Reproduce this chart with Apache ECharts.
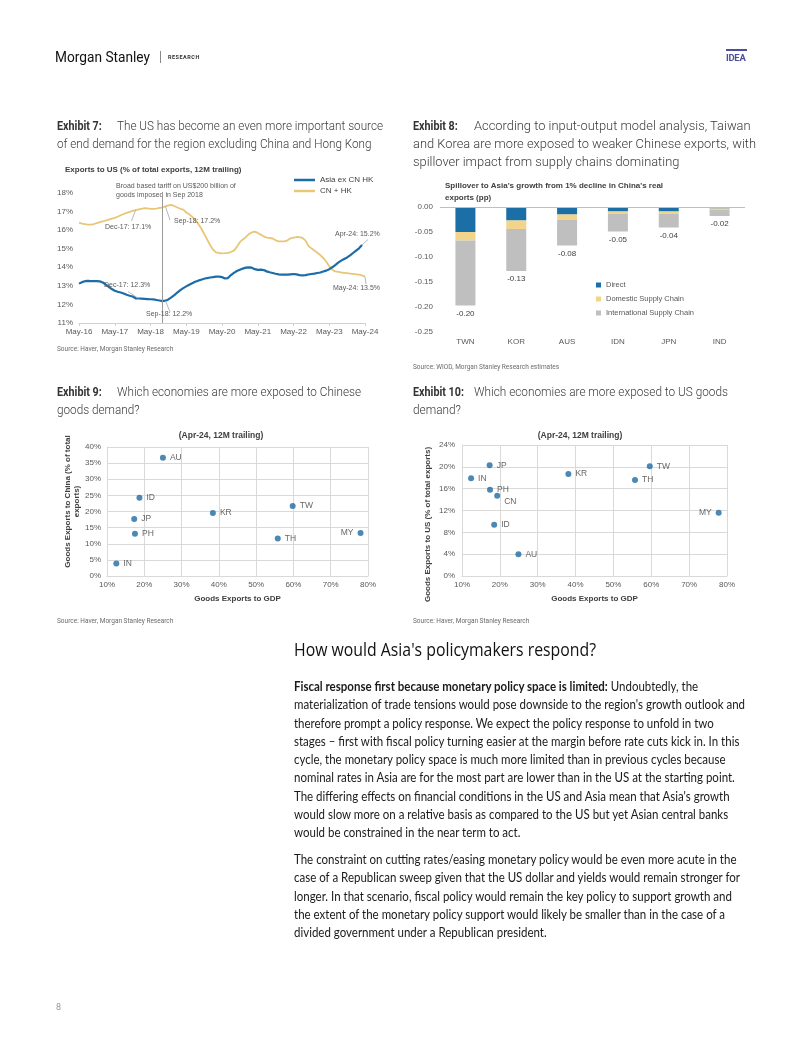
<!DOCTYPE html>
<html><head><meta charset="utf-8">
<script src="https://cdn.jsdelivr.net/npm/echarts@6/dist/echarts.min.js"></script>
<style>
html,body{margin:0;padding:0;background:#fff;}
#page{position:relative;width:802px;height:1037px;overflow:hidden;background:#fff;}
#chart{position:absolute;left:0;top:0;width:802px;height:1037px;}
.t{position:absolute;white-space:nowrap;color:#333;}
.ln{display:block;}
.sc{display:inline-block;transform-origin:0 50%;}
.lab{display:inline-block;font-weight:700;color:#333;}
.lab i{font-style:normal;display:inline-block;transform:scaleX(0.86);transform-origin:0 50%;}
.ex{font-family:Roboto,sans-serif;font-weight:300;font-size:12.5px;line-height:18px;color:#3a3a3a;}
.src{font-family:Roboto,sans-serif;font-size:6.5px;color:#6b6b6b;}
.body{font-family:Lato,sans-serif;font-size:12.4px;line-height:18.3px;color:#1a1a1a;}
</style></head>
<body>
<div id="page">
<div id="chart"></div>

<!-- header -->
<div class="t" data-w="95" data-ref="0" style="left:55px;top:48px;font-family:Roboto,sans-serif;font-size:15.5px;line-height:18px;color:#111;"><span class="sc">Morgan Stanley</span></div>
<div style="position:absolute;left:160px;top:51px;width:1px;height:12px;background:#888;"></div>
<div class="t" style="left:168px;top:53px;font-family:Roboto,sans-serif;font-size:5.5px;font-weight:700;letter-spacing:0.5px;line-height:8px;color:#333;">RESEARCH</div>
<div style="position:absolute;left:726px;top:49px;width:21px;height:2px;background:#4d4f9e;"></div>
<div class="t" style="left:726px;top:52px;font-family:Roboto,sans-serif;font-size:9.5px;font-weight:700;line-height:11px;color:#4d4f9e;letter-spacing:-0.3px;">IDEA</div>

<!-- exhibit titles -->
<div class="t ex" data-w="266" data-ref="0" style="left:57px;top:117px;">
 <div class="ln"><span class="lab" style="width:60px"><i>Exhibit 7:</i></span><span class="sc">The US has become an even more important source</span></div>
 <div class="ln"><span class="sc">of end demand for the region excluding China and Hong Kong</span></div>
</div>
<div class="t ex" data-w="343" data-ref="1" style="left:413px;top:117px;">
 <div class="ln"><span class="lab" style="width:61px"><i>Exhibit 8:</i></span><span class="sc">According to input-output model analysis, Taiwan</span></div>
 <div class="ln"><span class="sc">and Korea are more exposed to weaker Chinese exports, with</span></div>
 <div class="ln"><span class="sc">spillover impact from supply chains dominating</span></div>
</div>
<div class="t ex" data-w="244" data-ref="0" style="left:57px;top:383px;">
 <div class="ln"><span class="lab" style="width:60px"><i>Exhibit 9:</i></span><span class="sc">Which economies are more exposed to Chinese</span></div>
 <div class="ln"><span class="sc">goods demand?</span></div>
</div>
<div class="t ex" data-w="254" data-ref="0" style="left:413px;top:383px;">
 <div class="ln"><span class="lab" style="width:61px"><i>Exhibit 10:</i></span><span class="sc">Which economies are more exposed to US goods</span></div>
 <div class="ln"><span class="sc">demand?</span></div>
</div>

<!-- sources -->
<div class="t src" style="left:57px;top:345px;">Source: Haver, Morgan Stanley Research</div>
<div class="t src" style="left:413px;top:363px;">Source: WIOD, Morgan Stanley Research estimates</div>
<div class="t src" style="left:57px;top:617px;">Source: Haver, Morgan Stanley Research</div>
<div class="t src" style="left:413px;top:617px;">Source: Haver, Morgan Stanley Research</div>

<!-- heading -->
<div class="t" data-w="302" data-ref="0" style="left:294px;top:638px;font-family:'Open Sans',sans-serif;font-weight:500;font-size:17.5px;line-height:22px;color:#111;"><span class="sc">How would Asia's policymakers respond?</span></div>

<div class="t body" data-w="451" data-ref="1" style="left:294px;top:678px;">
 <div class="ln"><span class="sc"><b>Fiscal response first because monetary policy space is limited:</b> Undoubtedly, the</span></div>
 <div class="ln"><span class="sc">materialization of trade tensions would pose downside to the region's growth outlook and</span></div>
 <div class="ln"><span class="sc">therefore prompt a policy response. We expect the policy response to unfold in two</span></div>
 <div class="ln"><span class="sc">stages – first with fiscal policy turning easier at the margin before rate cuts kick in. In this</span></div>
 <div class="ln"><span class="sc">cycle, the monetary policy space is much more limited than in previous cycles because</span></div>
 <div class="ln"><span class="sc">nominal rates in Asia are for the most part are lower than in the US at the starting point.</span></div>
 <div class="ln"><span class="sc">The differing effects on financial conditions in the US and Asia mean that Asia's growth</span></div>
 <div class="ln"><span class="sc">would slow more on a relative basis as compared to the US but yet Asian central banks</span></div>
 <div class="ln"><span class="sc">would be constrained in the near term to act.</span></div>
</div>
<div class="t body" data-w="446" data-ref="1" style="left:294px;top:851px;">
 <div class="ln"><span class="sc">The constraint on cutting rates/easing monetary policy would be even more acute in the</span></div>
 <div class="ln"><span class="sc">case of a Republican sweep given that the US dollar and yields would remain stronger for</span></div>
 <div class="ln"><span class="sc">longer. In that scenario, fiscal policy would remain the key policy to support growth and</span></div>
 <div class="ln"><span class="sc">the extent of the monetary policy support would likely be smaller than in the case of a</span></div>
 <div class="ln"><span class="sc">divided government under a Republican president.</span></div>
</div>

<div class="t" style="left:56px;top:1002px;font-family:Roboto,sans-serif;font-size:9px;color:#999;">8</div>
</div>

<script>
// ---------- Exhibit 7 data ----------
const MONTH_ABBR = ['Jan','Feb','Mar','Apr','May','Jun','Jul','Aug','Sep','Oct','Nov','Dec'];
const months = [];
for (let i = 0; i < 97; i++) { const k = 4 + i; months.push(MONTH_ABBR[k % 12] + '-' + (16 + Math.floor(k / 12))); }

const asiaExCnHk = [13.12,13.20,13.25,13.27,13.26,13.25,13.25,13.24,13.18,13.07,12.95,12.83,
 12.74,12.68,12.64,12.59,12.52,12.47,12.43,12.33,12.32,12.31,12.30,12.29,
 12.28,12.27,12.24,12.21,12.18,12.20,12.27,12.38,12.50,12.64,12.77,12.88,
 12.97,13.06,13.14,13.22,13.28,13.33,13.38,13.42,13.45,13.47,13.50,13.50,
 13.47,13.40,13.42,13.58,13.70,13.80,13.87,13.93,13.98,14.00,13.98,13.90,
 13.86,13.87,13.85,13.78,13.73,13.69,13.65,13.62,13.60,13.60,13.60,13.62,
 13.64,13.62,13.58,13.56,13.58,13.61,13.64,13.66,13.69,13.72,13.77,13.82,
 13.90,14.00,14.12,14.25,14.36,14.45,14.53,14.64,14.77,14.90,15.02,15.20,null];
const cnHk = [16.40,16.35,16.32,16.30,16.30,16.33,16.38,16.43,16.47,16.52,16.57,16.62,
 16.66,16.72,16.80,16.87,16.93,16.98,17.04,17.08,17.12,17.15,17.18,17.17,
 17.15,17.14,17.16,17.20,17.22,17.28,17.33,17.36,17.30,17.22,17.15,17.10,
 16.95,16.85,16.72,16.55,16.35,16.10,15.80,15.50,15.20,14.95,14.80,14.77,
 14.75,14.76,14.78,14.82,14.90,15.10,15.35,15.50,15.62,15.78,15.88,15.92,
 15.85,15.76,15.66,15.60,15.58,15.55,15.45,15.40,15.40,15.40,15.45,15.56,
 15.60,15.63,15.62,15.58,15.45,15.15,15.02,14.90,14.78,14.66,14.50,14.30,
 14.05,13.87,13.78,13.75,13.72,13.70,13.68,13.66,13.64,13.62,13.60,13.56,13.50];

// ---------- Exhibit 8 data ----------
const spillCountries = ['TWN','KOR','AUS','IDN','JPN','IND'];
const direct = [-0.050,-0.027,-0.015,-0.009,-0.009,-0.003];
const domesticSC = [-0.017,-0.017,-0.010,-0.005,-0.005,-0.002];
const internationalSC = [-0.130,-0.084,-0.052,-0.035,-0.027,-0.013];
const spillTotals = [-0.20,-0.13,-0.08,-0.05,-0.04,-0.02];

// ---------- Exhibit 9 data ----------
const cnNames = ['AU','ID','JP','PH','IN','KR','TW','TH','MY'];
const cnGdp = [25.0,18.7,17.3,17.5,12.5,38.4,59.8,55.8,78.0];
const cnShare = [36.7,24.3,17.7,13.1,3.9,19.5,21.7,11.6,13.3];

// ---------- Exhibit 10 data ----------
const usNames = ['JP','IN','PH','CN','ID','AU','KR','TW','TH','MY'];
const usGdp = [17.3,12.4,17.4,19.3,18.5,24.9,38.1,59.6,55.7,77.8];
const usShare = [20.3,17.9,15.8,14.7,9.4,4.0,18.7,20.1,17.6,11.6];

// ---------- fit text widths ----------
document.querySelectorAll('[data-w]').forEach(function (blk) {
  const spans = blk.querySelectorAll('.sc');
  const ref = spans[+blk.dataset.ref];
  const w = ref.getBoundingClientRect().width;
  const s = (+blk.dataset.w) / w;
  spans.forEach(function (sp) { sp.style.transform = 'scaleX(' + s + ')'; });
});

// ---------- chart ----------
const FONT = 'Liberation Sans, Arial, sans-serif';
const BLUE = '#1b6ca8', YEL = '#e8c678', DOT = '#1f6aa0';
const lab = '#595959';
const LEADER = { color: '#a6a6a6', width: 0.8, type: 'solid' };

function annot(name, m, v, dx, dy) {
  return { name: name, coord: [months[m], v], label: { offset: [dx, dy] } };
}
function leader(m, v, px, py) {
  return [{ coord: [months[m], v], lineStyle: LEADER }, { x: px, y: py }];
}
function fmtPct(v) { return v.toFixed(1) + '%'; }

const chart = echarts.init(document.getElementById('chart'), null, { renderer: 'canvas' });

function scatterData(names, xs, ys, leftSet, special) {
  return names.map(function (n, i) {
    const d = { name: n, value: [xs[i], ys[i]] };
    if (leftSet.indexOf(n) >= 0) d.label = { position: 'left' };
    if (special && special[n]) d.label = special[n];
    return d;
  });
}

const valAxisCommon = {
  axisLabel: { fontSize: 8, color: lab, fontFamily: FONT, formatter: '{value}%' },
  axisLine: { show: true, lineStyle: { color: '#d9d9d9' } },
  axisTick: { show: false },
  splitLine: { show: true, lineStyle: { color: '#d9d9d9', width: 1 } },
  nameTextStyle: { fontSize: 8, fontWeight: 'bold', color: '#404040', fontFamily: FONT }
};

const option = {
  animation: false,
  textStyle: { fontFamily: FONT },
  grid: [
    { left: 79, top: 193, width: 286, height: 130 },
    { left: 440, top: 207, width: 305, height: 125 },
    { left: 107, top: 447, width: 261, height: 129 },
    { left: 462, top: 445, width: 265, height: 131 }
  ],
  legend: [
    { data: ['Asia ex CN HK', 'CN + HK'], left: 289, top: 171, orient: 'vertical', icon: 'rect',
      itemWidth: 21, itemHeight: 2.5, itemGap: 3, textStyle: { fontSize: 8, color: '#404040', fontFamily: FONT } },
    { data: ['Direct', 'Domestic Supply Chain', 'International Supply Chain'], left: 591, top: 276,
      orient: 'vertical', icon: 'rect', itemWidth: 5, itemHeight: 5, itemGap: 6,
      textStyle: { fontSize: 7.5, color: '#595959', fontFamily: FONT } }
  ],
  xAxis: [
    { type: 'category', gridIndex: 0, data: months, boundaryGap: false,
      axisLine: { lineStyle: { color: '#d0d0d0' } },
      axisTick: { show: true, interval: 11, length: 3, lineStyle: { color: '#d0d0d0' } },
      axisLabel: { interval: 11, fontSize: 8, color: lab, margin: 5 } },
    { type: 'category', gridIndex: 1, data: spillCountries,
      axisLine: { show: false }, axisTick: { show: false },
      axisLabel: { fontSize: 8, color: lab, margin: 6 } },
    Object.assign({}, valAxisCommon, { type: 'value', gridIndex: 2, min: 10, max: 80, interval: 10,
      name: 'Goods Exports to GDP', nameLocation: 'middle', nameGap: 19,
      axisLabel: Object.assign({}, valAxisCommon.axisLabel, { margin: 5 }) }),
    Object.assign({}, valAxisCommon, { type: 'value', gridIndex: 3, min: 10, max: 80, interval: 10,
      name: 'Goods Exports to GDP', nameLocation: 'middle', nameGap: 19,
      axisLabel: Object.assign({}, valAxisCommon.axisLabel, { margin: 5 }) })
  ],
  yAxis: [
    { type: 'value', gridIndex: 0, min: 11, max: 18, interval: 1,
      axisLine: { show: false }, axisTick: { show: false }, splitLine: { show: false },
      axisLabel: { fontSize: 8, color: lab, margin: 6, formatter: '{value}%' } },
    { type: 'value', gridIndex: 1, min: -0.25, max: 0, interval: 0.05,
      axisLine: { show: false }, axisTick: { show: false }, splitLine: { show: false },
      axisLabel: { fontSize: 8, color: lab, margin: 7, formatter: function (v) { return v.toFixed(2); } } },
    Object.assign({}, valAxisCommon, { type: 'value', gridIndex: 2, min: 0, max: 40, interval: 5,
      name: 'Goods Exports to China (% of total\nexports)', nameLocation: 'middle', nameGap: 25,
      nameTextStyle: Object.assign({}, valAxisCommon.nameTextStyle, { lineHeight: 9, padding: [0, 0, 0, 20] }),
      axisLabel: Object.assign({}, valAxisCommon.axisLabel, { margin: 6 }) }),
    Object.assign({}, valAxisCommon, { type: 'value', gridIndex: 3, min: 0, max: 24, interval: 4,
      name: 'Goods Exports to US (% of total exports)', nameLocation: 'middle', nameGap: 30,
      nameTextStyle: Object.assign({}, valAxisCommon.nameTextStyle, { padding: [0, 28, 0, 0] }),
      axisLabel: Object.assign({}, valAxisCommon.axisLabel, { margin: 7 }) })
  ],
  series: [
    { type: 'line', name: 'Asia ex CN HK', xAxisIndex: 0, yAxisIndex: 0, data: asiaExCnHk,
      symbol: 'none', lineStyle: { width: 2.2, color: BLUE }, itemStyle: { color: BLUE }, z: 3,
      markLine: { silent: true, symbol: 'none', label: { show: false },
        lineStyle: { color: '#9a9a9a', width: 1, type: 'solid' },
        data: [
          { xAxis: months[28] },
          leader(20, asiaExCnHk[20], 128, 291.5),
          leader(29, asiaExCnHk[29], 170, 312),
          leader(95, asiaExCnHk[95], 368, 239.5)
        ] },
      markPoint: { symbol: 'circle', symbolSize: 0, silent: true,
        label: { show: true, position: 'inside', align: 'left', verticalAlign: 'middle', formatter: '{b}',
          fontSize: 7, color: lab },
        data: [
          annot(months[19] + ': ' + fmtPct(asiaExCnHk[19]), 19, asiaExCnHk[19], -31.6, -13.3),
          annot(months[28] + ': ' + fmtPct(asiaExCnHk[28]), 28, asiaExCnHk[28], -16.4, 12.9),
          annot(months[95] + ': ' + fmtPct(asiaExCnHk[95]), 95, asiaExCnHk[95], -27, -11)
        ] } },
    { type: 'line', name: 'CN + HK', xAxisIndex: 0, yAxisIndex: 0, data: cnHk,
      symbol: 'none', lineStyle: { width: 1.8, color: YEL }, itemStyle: { color: YEL }, z: 2,
      markLine: { silent: true, symbol: 'none', label: { show: false },
        data: [
          leader(19, cnHk[19], 131.5, 221),
          leader(29, cnHk[29], 170, 220),
          leader(96, cnHk[96], 366, 284)
        ] },
      markPoint: { symbol: 'circle', symbolSize: 0, silent: true,
        label: { show: true, position: 'inside', align: 'left', verticalAlign: 'middle', formatter: '{b}',
          fontSize: 7, color: lab },
        data: [
          annot(months[19] + ': ' + fmtPct(cnHk[19]), 19, cnHk[19], -30.6, 16.6),
          annot(months[28] + ': ' + fmtPct(cnHk[28]), 28, cnHk[28], 11.6, 13.5),
          annot(months[96] + ': ' + fmtPct(cnHk[96]), 96, cnHk[96], -32, 11.4)
        ] } },

    { type: 'bar', name: 'Direct', xAxisIndex: 1, yAxisIndex: 1, stack: 'spill', data: direct,
      barWidth: 20, itemStyle: { color: '#1c6ea7' },
      markLine: { silent: true, symbol: 'none', label: { show: false },
        lineStyle: { color: '#bfbfbf', width: 1, type: 'solid' }, data: [{ yAxis: 0 }] } },
    { type: 'bar', name: 'Domestic Supply Chain', xAxisIndex: 1, yAxisIndex: 1, stack: 'spill',
      data: domesticSC, barWidth: 20, itemStyle: { color: '#f3d48b' } },
    { type: 'bar', name: 'International Supply Chain', xAxisIndex: 1, yAxisIndex: 1, stack: 'spill',
      data: internationalSC, barWidth: 20, itemStyle: { color: '#bfbfbf' },
      label: { show: true, position: 'bottom', distance: 4, fontSize: 8, color: '#404040',
        formatter: function (p) { return spillTotals[p.dataIndex].toFixed(2); } } },

    { type: 'scatter', xAxisIndex: 2, yAxisIndex: 2, symbolSize: 6, itemStyle: { color: DOT },
      label: { show: true, position: 'right', distance: 4, formatter: '{b}', fontSize: 8.5, color: '#404040' },
      data: scatterData(cnNames, cnGdp, cnShare, ['MY']) },
    { type: 'scatter', xAxisIndex: 3, yAxisIndex: 3, symbolSize: 6, itemStyle: { color: DOT },
      label: { show: true, position: 'right', distance: 4, formatter: '{b}', fontSize: 8.5, color: '#404040' },
      data: scatterData(usNames, usGdp, usShare, ['MY'],
        { CN: { position: 'right', distance: 3, offset: [1, 6] } }) }
  ],
  graphic: [
    { type: 'text', x: 65, y: 170, silent: true,
      style: { text: 'Exports to US (% of total exports, 12M trailing)', verticalAlign: 'middle',
        font: 'bold 8px ' + FONT, fill: '#404040' } },
    { type: 'text', x: 116, y: 182, silent: true,
      style: { text: 'Broad based tariff on US$200 billion of\ngoods imposed in Sep 2018', lineHeight: 9,
        font: '7px ' + FONT, fill: lab } },
    { type: 'text', x: 445, y: 180, silent: true,
      style: { text: "Spillover to Asia's growth from 1% decline in China's real\nexports (pp)", lineHeight: 12,
        font: 'bold 8px ' + FONT, fill: '#404040' } },
    { type: 'text', x: 221, y: 436, silent: true,
      style: { text: '(Apr-24, 12M trailing)', align: 'center', verticalAlign: 'middle',
        font: 'bold 8.5px ' + FONT, fill: '#404040' } },
    { type: 'text', x: 580, y: 436, silent: true,
      style: { text: '(Apr-24, 12M trailing)', align: 'center', verticalAlign: 'middle',
        font: 'bold 8.5px ' + FONT, fill: '#404040' } }
  ]
};
chart.setOption(option);
</script>
</body></html>
